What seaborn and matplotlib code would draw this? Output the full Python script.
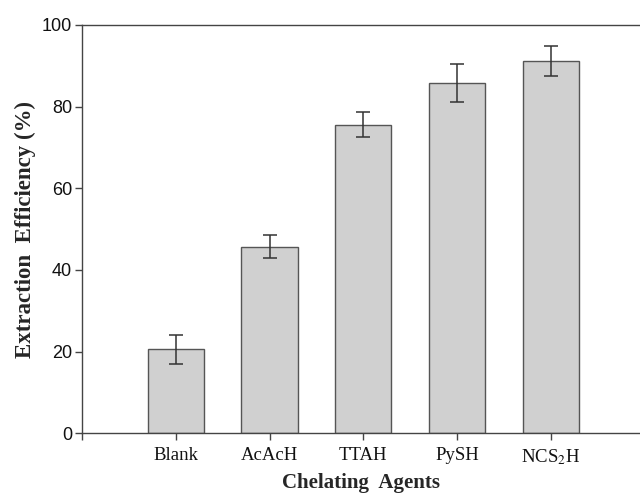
import matplotlib
matplotlib.use("Agg")
import matplotlib.pyplot as plt
import seaborn as sns
import pandas as pd

# values
agents = ["Blank", "AcAcH", "TTAH", "PySH", "NCS$_2$H"]
efficiency = [20.6, 45.7, 75.6, 85.7, 91.1]
errors = [3.5, 2.8, 3.0, 4.6, 3.7]
yticks = [0, 20, 40, 60, 80, 100]

df = pd.DataFrame({"agent": agents, "eff": efficiency})

sns.set_style("ticks")
plt.rcParams["mathtext.fontset"] = "stix"

fig = plt.figure(figsize=(6.4, 4.97), dpi=100)
ax = fig.add_axes([0.128, 0.128, 0.872, 0.822])

sns.barplot(data=df, x="agent", y="eff", color="#d0d0d0", edgecolor="#555555",
            linewidth=1.0, width=0.6, saturation=1, errorbar=None, ax=ax)

# error bars centred on the drawn bars
xs = [p.get_x() + p.get_width() / 2 for p in ax.patches]
ax.errorbar(xs, efficiency, yerr=errors, fmt="none", ecolor="#333333",
            elinewidth=1.1, capsize=5, capthick=1.1)

ax.set_ylim(0, 100)
ax.set_yticks(yticks)
ax.set_xlim(-1, 4.95)
ax.set_xticks([-1, 0, 1, 2, 3, 4])
ax.set_xticklabels([""] + agents, family="Liberation Serif", fontsize=13.5)
for lab in ax.get_yticklabels():
    lab.set_family("Liberation Sans")
    lab.set_fontsize(13)

ax.set_xlabel("Chelating  Agents", family="Liberation Serif", fontweight="bold",
              fontsize=15, labelpad=4)
ax.set_ylabel("Extraction  Efficiency (%)", family="Liberation Serif",
              fontweight="bold", fontsize=16.5, labelpad=4)

for side in ["left", "bottom", "top"]:
    ax.spines[side].set_color("#444444")
    ax.spines[side].set_linewidth(1.0)
ax.spines["right"].set_visible(False)
ax.tick_params(axis="both", direction="out", length=5, width=1.0, color="#444444",
               labelcolor="#111111", pad=2)
ax.tick_params(axis="x", pad=5)

plt.savefig("out.png", dpi=100)
plt.close()
